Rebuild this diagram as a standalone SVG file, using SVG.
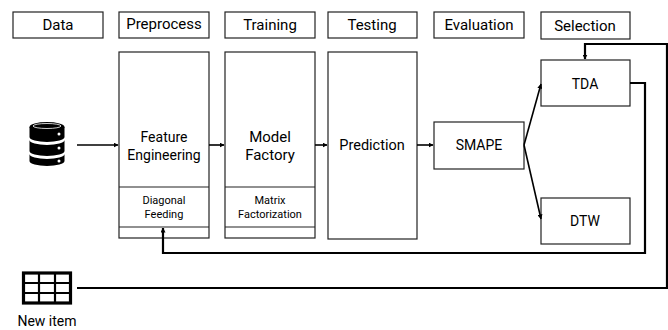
<svg xmlns="http://www.w3.org/2000/svg" width="668" height="330" viewBox="0 0 668 330">
<defs>
<style>
.box{fill:#fff;stroke:#222;stroke-width:1.2}
.t{font-family:Roboto,"Liberation Sans",sans-serif;fill:#000;text-anchor:middle;font-weight:400}
.h{font-size:15px}
.n{font-size:14px}
.s{font-size:11px}
.c{fill:none;stroke:#000;stroke-width:1.6}
.c2{fill:none;stroke:#000;stroke-width:2.2}
</style>
<marker id="ar" viewBox="0 0 10 10" refX="9" refY="5" markerWidth="5" markerHeight="5" orient="auto-start-reverse" markerUnits="userSpaceOnUse">
<path d="M0,0 L10,5 L0,10 z" fill="#000"/>
</marker>
</defs>
<rect width="668" height="330" fill="#fff"/>
<g id="headers">
<g id="h-data"><rect class="box" x="13" y="12" width="90" height="26"/><text class="t h" x="58" y="30">Data</text></g>
<g id="h-pre"><rect class="box" x="119" y="12" width="90" height="26"/><text class="t h" x="164" y="29">Preprocess</text></g>
<g id="h-train"><rect class="box" x="225" y="12" width="90" height="26"/><text class="t h" x="270" y="30">Training</text></g>
<g id="h-test"><rect class="box" x="328" y="12" width="89" height="26"/><text class="t h" x="372" y="30">Testing</text></g>
<g id="h-eval"><rect class="box" x="434" y="12" width="90" height="26"/><text class="t h" x="479" y="30">Evaluation</text></g>
<g id="h-sel"><rect class="box" x="541" y="12" width="89" height="27"/><text class="t h" x="585" y="31">Selection</text></g>
</g>
<g id="database">
<ellipse cx="47" cy="127" rx="17.5" ry="5" fill="#000"/>
<path d="M29.5,127 v10 a17.5,5 0 0 0 35,0 v-10 z" fill="#000"/>
<path d="M29.5,140 a17.5,5 0 0 0 35,0 v11 a17.5,5 0 0 1 -35,0 z" fill="#000"/>
<path d="M29.5,154 a17.5,5 0 0 0 35,0 v7 a17.5,5 0 0 1 -35,0 z" fill="#000"/>
<ellipse cx="47" cy="126" rx="14" ry="2.5" fill="none" stroke="#fff" stroke-width="0.8"/>
<circle cx="59" cy="134" r="1.5" fill="#fff"/>
<circle cx="59" cy="148" r="1.5" fill="#fff"/>
<circle cx="59" cy="161" r="1.5" fill="#fff"/>
</g>
<g id="newitem">
<rect x="23.5" y="273" width="47" height="30" fill="none" stroke="#000" stroke-width="3.2"/>
<line x1="23" y1="283" x2="71" y2="283" stroke="#000" stroke-width="2.2"/>
<line x1="23" y1="293" x2="71" y2="293" stroke="#000" stroke-width="2.2"/>
<line x1="39" y1="273" x2="39" y2="303" stroke="#000" stroke-width="2.2"/>
<line x1="55" y1="273" x2="55" y2="303" stroke="#000" stroke-width="2.2"/>
<text class="t" font-size="14" x="47" y="326">New item</text>
</g>
<g id="feature">
<rect class="box" x="119" y="52" width="90" height="186"/>
<line class="box" x1="119" y1="187" x2="209" y2="187"/>
<line class="box" x1="119" y1="227" x2="209" y2="227"/>
<text class="t n" x="164" y="142">Feature</text>
<text class="t n" x="164" y="160">Engineering</text>
<text class="t s" x="164" y="204">Diagonal</text>
<text class="t s" x="164" y="218">Feeding</text>
</g>
<g id="model">
<rect class="box" x="225" y="52" width="90" height="186"/>
<line class="box" x1="225" y1="187" x2="315" y2="187"/>
<line class="box" x1="225" y1="227" x2="315" y2="227"/>
<text class="t" font-size="15" x="270" y="142">Model</text>
<text class="t" font-size="15" x="270" y="160">Factory</text>
<text class="t s" x="270" y="204">Matrix</text>
<text class="t s" x="270" y="218">Factorization</text>
</g>
<g id="prediction">
<rect class="box" x="328" y="52" width="89" height="187"/>
<text class="t" font-size="14.5" x="372" y="150">Prediction</text>
</g>
<g id="smape">
<rect class="box" x="434" y="122" width="90" height="47"/>
<text class="t n" x="479" y="150">SMAPE</text>
</g>
<g id="tda">
<rect class="box" x="541" y="60" width="89" height="46"/>
<text class="t n" x="585" y="89">TDA</text>
</g>
<g id="dtw">
<rect class="box" x="541" y="198" width="89" height="46"/>
<text class="t n" x="585" y="226">DTW</text>
</g>
<g id="connectors">
<line class="c" x1="77" y1="145" x2="118" y2="145" marker-end="url(#ar)"/>
<line class="c" x1="209" y1="145" x2="224" y2="145" marker-end="url(#ar)"/>
<line class="c" x1="315" y1="145" x2="327" y2="145" marker-end="url(#ar)"/>
<line class="c" x1="417" y1="145" x2="433" y2="145" marker-end="url(#ar)"/>
<line class="c" x1="524" y1="145" x2="541" y2="84" marker-end="url(#ar)"/>
<line class="c" x1="524" y1="145" x2="541" y2="219" marker-end="url(#ar)"/>
<polyline class="c2" points="630,83 645,83 645,253 163,253 163,228" marker-end="url(#ar)"/>
<polyline class="c2" points="77,288 667,288 667,44 585,44 585,59" marker-end="url(#ar)"/>
</g>
</svg>
